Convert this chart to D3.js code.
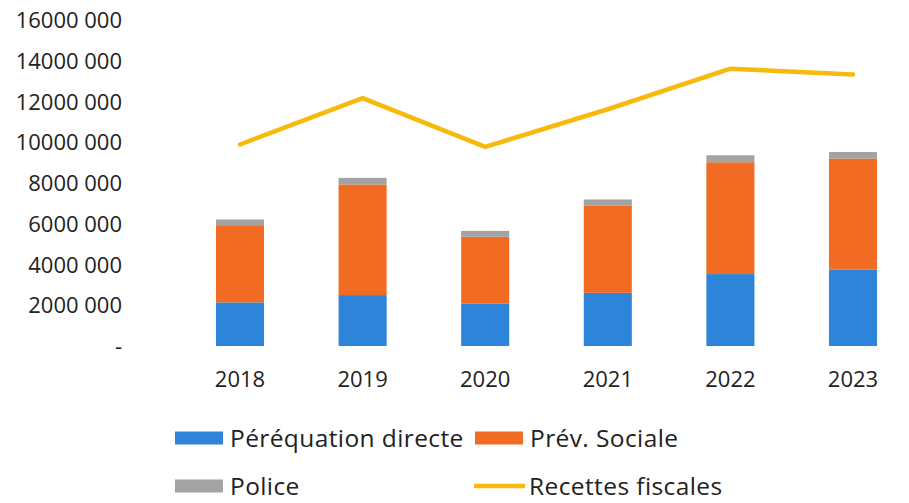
<!DOCTYPE html>
<html>
<head>
<meta charset="utf-8">
<script src="https://cdn.jsdelivr.net/npm/d3@7"></script>
<style>
  html, body { margin: 0; padding: 0; background: #fff; }
  svg { display: block; }
  text { font-family: "Open Sans", "Noto Sans", sans-serif; fill: #222; }
</style>
</head>
<body>
<svg id="chart" width="909" height="503"></svg>
<script>
const years = ["2018", "2019", "2020", "2021", "2022", "2023"];
const perequation = [2140000, 2500000, 2090000, 2610000, 3530000, 3760000];
const prevSociale = [3790000, 5430000, 3270000, 4270000, 5490000, 5440000];
const police = [280000, 320000, 290000, 310000, 340000, 320000];
const recettes = [9890000, 12170000, 9770000, 11620000, 13610000, 13330000];
const yTickValues = [0, 2000000, 4000000, 6000000, 8000000, 10000000, 12000000, 14000000, 16000000];
const yTickLabels = ["-", "2000 000", "4000 000", "6000 000", "8000 000", "10000 000", "12000 000", "14000 000", "16000 000"];
const seriesNames = ["Péréquation directe", "Prév. Sociale", "Police", "Recettes fiscales"];
const colors = ["#2d84d8", "#f26b22", "#a3a3a3", "#f7b90a"];

const svg = d3.select("#chart");

const x = d3.scaleBand().domain(years).range([178.7, 914.3]).paddingInner(0.608).paddingOuter(0.304);
const y = d3.scaleLinear().domain([0, 16000000]).range([346, 20]);

// stacked data
const rows = years.map((yr, i) => ({ year: yr, a: perequation[i], b: prevSociale[i], c: police[i] }));
const stack = d3.stack().keys(["a", "b", "c"]);
const stacked = stack(rows);

svg.append("g").selectAll("g")
  .data(stacked)
  .join("g")
  .attr("fill", (d, i) => colors[i])
  .selectAll("rect")
  .data(d => d)
  .join("rect")
  .attr("x", d => x(d.data.year))
  .attr("width", x.bandwidth())
  .attr("y", d => y(d[1]))
  .attr("height", d => y(d[0]) - y(d[1]));

// line
const line = d3.line()
  .x((d, i) => x(years[i]) + x.bandwidth() / 2)
  .y(d => y(d));
svg.append("path")
  .datum(recettes)
  .attr("d", line)
  .attr("fill", "none")
  .attr("stroke", colors[3])
  .attr("stroke-width", 4.5)
  .attr("stroke-linejoin", "round")
  .attr("stroke-linecap", "round");

// y axis labels
const yAxis = d3.axisLeft(y)
  .tickValues(yTickValues)
  .tickFormat((d, i) => yTickLabels[i])
  .tickSize(0)
  .tickPadding(0);
const gy = svg.append("g").attr("transform", "translate(122,0)").call(yAxis);
gy.select(".domain").remove();
gy.selectAll("text")
  .style("font-family", '"Open Sans", "Noto Sans", sans-serif')
  .style("font-size", "22px")
  .attr("fill", "#222")
  .attr("dy", "0.35em");

// x axis labels
const xAxis = d3.axisBottom(x).tickSize(0).tickPadding(0);
const gx = svg.append("g").attr("transform", "translate(0,371)").call(xAxis);
gx.select(".domain").remove();
gx.selectAll("text")
  .style("font-family", '"Open Sans", "Noto Sans", sans-serif')
  .style("font-size", "22px")
  .attr("fill", "#222")
  .attr("dy", "0.71em");

// legend
const legendItems = [
  { name: seriesNames[0], color: colors[0], type: "rect", x: 175, y: 438 },
  { name: seriesNames[1], color: colors[1], type: "rect", x: 475, y: 438 },
  { name: seriesNames[2], color: colors[2], type: "rect", x: 175, y: 486 },
  { name: seriesNames[3], color: colors[3], type: "line", x: 474, y: 486 }
];
const lg = svg.append("g").selectAll("g").data(legendItems).join("g")
  .attr("transform", d => `translate(${d.x},${d.y})`);
lg.filter(d => d.type === "rect").append("rect")
  .attr("x", 0).attr("y", -6.5).attr("width", 48).attr("height", 13)
  .attr("fill", d => d.color);
lg.filter(d => d.type === "line").append("line")
  .attr("x1", 0).attr("x2", 51).attr("y1", 0).attr("y2", 0)
  .attr("stroke", d => d.color).attr("stroke-width", 4.5);
lg.append("text")
  .attr("x", 55).attr("y", 0).attr("dy", "0.36em")
  .style("font-size", "24.5px")
  .style("letter-spacing", "0.4px")
  .text(d => d.name);
</script>
</body>
</html>
